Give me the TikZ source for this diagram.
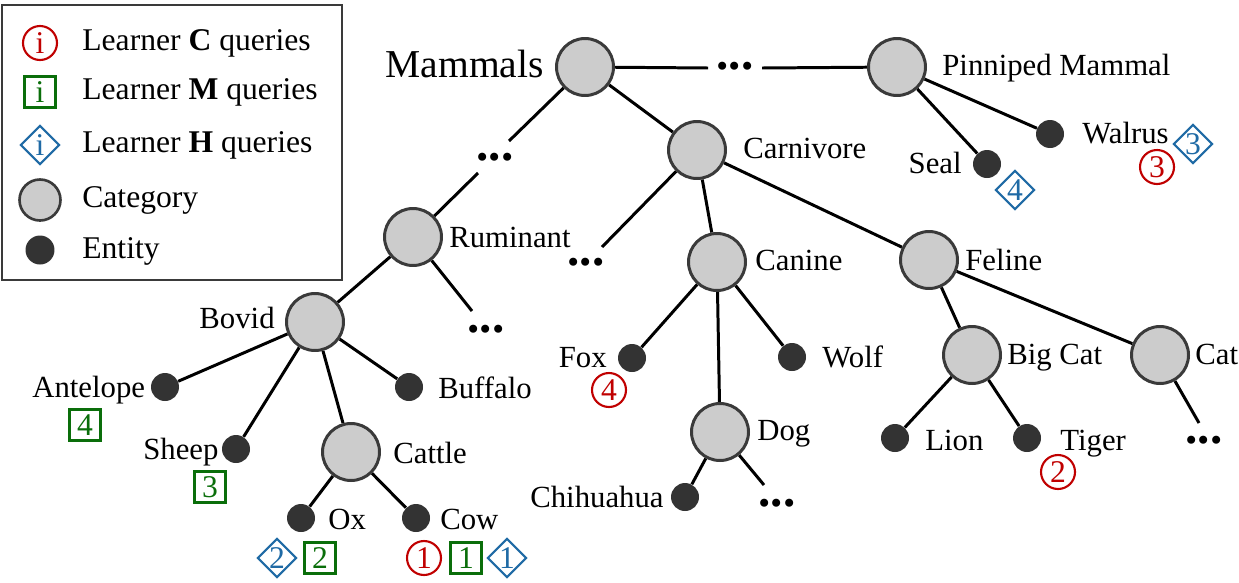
\documentclass[tikz,border=0pt]{standalone}
\usepackage{fontspec}
\setmainfont{Liberation Serif}
\newfontfamily\trfont{Liberation Serif}
\usetikzlibrary{shapes.geometric,backgrounds}
\definecolor{cred}{HTML}{C00000}
\definecolor{cgreen}{HTML}{0A6E0A}
\definecolor{cblue}{HTML}{1F6AA5}
\definecolor{catfill}{HTML}{CCCCCC}
\definecolor{catborder}{HTML}{3A3A3A}
\definecolor{entfill}{HTML}{333333}
\begin{document}
\begin{tikzpicture}[x=0.02cm,y=-0.02cm,
 catnode/.style={circle,draw=catborder,fill=catfill,line width=1.7pt,minimum size=1.14cm,inner sep=0},
 entnode/.style={circle,fill=entfill,minimum size=0.56cm,inner sep=0},
 lbl/.style={inner sep=0,font=\trfont\fontsize{17.5}{20}\selectfont},
 lblw/.style={lbl,anchor=base west},
 lble/.style={lbl,anchor=base east},
 legtxt/.style={inner sep=0,anchor=base west,font=\trfont\fontsize{18}{20}\selectfont},
 dotsnode/.style={inner sep=0,font=\trfont\fontsize{28}{28}\selectfont\bfseries},
 conn/.style={line width=1.7pt,black},
 mk/.style={inner sep=0,line width=1.2pt,font=\trfont\fontsize{18}{18}\selectfont},
 cmark/.style={mk,circle,draw=cred,text=cred,minimum size=0.68cm},
 smark/.style={mk,rectangle,draw=cgreen,text=cgreen,minimum size=0.62cm},
 dmark/.style={mk,diamond,aspect=1,draw=cblue,text=cblue,minimum size=0.78cm},
]
\useasboundingbox (0,0) rectangle (1239,582);

% legend
\draw[line width=1.1pt,catborder,fill=white] (2,5) rectangle (342,280);
\node[cmark] (lgC) at (40,43) {i};
\node[smark] (lgM) at (40,92) {i};
\node[dmark] (lgH) at (40,145) {i};
\node[catnode,minimum size=0.82cm,line width=1.5pt] (lgCat) at (40,200) {};
\node[entnode,minimum size=0.58cm] (lgEnt) at (40,250) {};
\node[legtxt] (tC) at (82,50) {Learner \textbf{C} queries};
\node[legtxt] (tM) at (82,99) {Learner \textbf{M} queries};
\node[legtxt] (tH) at (82,152) {Learner \textbf{H} queries};
\node[legtxt] (tCat) at (82,207) {Category};
\node[legtxt] (tEnt) at (82,258) {Entity};

% categories
\node[catnode] (mam) at (585,67) {};
\node[catnode] (pin) at (897,67) {};
\node[catnode] (carn) at (697,150) {};
\node[catnode] (rum) at (413,237) {};
\node[catnode] (can) at (717,262) {};
\node[catnode] (fel) at (929,260) {};
\node[catnode] (bov) at (315,322) {};
\node[catnode] (cat) at (351,452) {};
\node[catnode] (dog) at (720,432) {};
\node[catnode] (big) at (972,355) {};
\node[catnode] (catt) at (1160,355) {};

% entities
\node[entnode] (ant) at (165,387) {};
\node[entnode] (buf) at (409,387) {};
\node[entnode] (shp) at (236,449) {};
\node[entnode] (ox) at (301,518) {};
\node[entnode] (cow) at (416,518) {};
\node[entnode] (fox) at (632,358) {};
\node[entnode] (wolf) at (792,357) {};
\node[entnode] (chi) at (685,497) {};
\node[entnode] (lion) at (895,438) {};
\node[entnode] (tig) at (1027,438) {};
\node[entnode] (wal) at (1050,134) {};
\node[entnode] (seal) at (987,164) {};

% ellipses
\node[dotsnode] (d1) at (735,66) {...};
\node[dotsnode] (d2) at (495,157) {...};
\node[dotsnode] (d3) at (486,329) {...};
\node[dotsnode] (d4) at (586,262) {...};
\node[dotsnode] (d5) at (777,503) {...};
\node[dotsnode] (d6) at (1204,440) {...};

% free line ends
\coordinate (m1) at (708,68);
\coordinate (m2) at (762,68);
\coordinate (r1) at (509,141);
\coordinate (r2) at (478,173);
\coordinate (ru1) at (472,311);
\coordinate (c1) at (602,247);
\coordinate (dg1) at (764,485);
\coordinate (ca1) at (1199,423);

\begin{scope}[on background layer]
\draw[conn] (mam) -- (m1);
\draw[conn] (m2) -- (pin);
\draw[conn] (mam) -- (r1);
\draw[conn] (r2) -- (rum);
\draw[conn] (mam) -- (carn);
\draw[conn] (pin) -- (seal);
\draw[conn] (pin) -- (wal);
\draw[conn] (carn) -- (c1);
\draw[conn] (carn) -- (can);
\draw[conn] (carn) -- (fel);
\draw[conn] (rum) -- (bov);
\draw[conn] (rum) -- (ru1);
\draw[conn] (bov) -- (ant);
\draw[conn] (bov) -- (buf);
\draw[conn] (bov) -- (shp);
\draw[conn] (bov) -- (cat);
\draw[conn] (cat) -- (ox);
\draw[conn] (cat) -- (cow);
\draw[conn] (can) -- (fox);
\draw[conn] (can) -- (wolf);
\draw[conn] (can) -- (dog);
\draw[conn] (dog) -- (chi);
\draw[conn] (dog) -- (dg1);
\draw[conn] (fel) -- (big);
\draw[conn] (fel) -- (catt);
\draw[conn] (big) -- (lion);
\draw[conn] (big) -- (tig);
\draw[conn] (catt) -- (ca1);
\end{scope}

% labels
\node[lble,font=\trfont\fontsize{22.5}{24}\selectfont] (lmam) at (544,77) {Mammals};
\node[lblw] (lpin) at (942,75) {Pinniped Mammal};
\node[lblw] (lcarn) at (743,158) {Carnivore};
\node[lblw] (lrum) at (449,247) {Ruminant};
\node[lblw] (lcan) at (755,270) {Canine};
\node[lblw] (lfel) at (965,270) {Feline};
\node[lble] (lbov) at (275,328) {Bovid};
\node[lblw] (lant) at (32,397) {Antelope};
\node[lblw] (lbuf) at (438,398) {Buffalo};
\node[lblw] (lshp) at (143,459) {Sheep};
\node[lblw] (lcat) at (393,463) {Cattle};
\node[lblw] (lox) at (328,529) {Ox};
\node[lblw] (lcow) at (440,529) {Cow};
\node[lble] (lfox) at (607,367) {Fox};
\node[lblw] (lwolf) at (822,367) {Wolf};
\node[lblw] (ldog) at (757,440) {Dog};
\node[lblw] (lchi) at (530,507) {Chihuahua};
\node[lblw] (lbig) at (1007,364) {Big Cat};
\node[lblw] (lcatt) at (1195,364) {Cat};
\node[lblw] (llion) at (925,450) {Lion};
\node[lblw] (ltig) at (1060,450) {Tiger};
\node[lblw] (lwal) at (1082,143) {Walrus};
\node[lble] (lseal) at (962,173) {Seal};

% query markers
\node[smark] (qant) at (85,425) {4};
\node[smark] (qshp) at (210,487) {3};
\node[dmark] (qoxH) at (277,558) {2};
\node[smark] (qoxM) at (320,558) {2};
\node[cmark] (qcowC) at (424,558) {1};
\node[smark] (qcowM) at (466,558) {1};
\node[dmark] (qcowH) at (507,558) {1};
\node[cmark] (qfox) at (609,390) {4};
\node[cmark] (qtig) at (1058,472) {2};
\node[dmark] (qseal) at (1015,190) {4};
\node[dmark] (qwalH) at (1193,144) {3};
\node[cmark] (qwalC) at (1157,167) {3};
\end{tikzpicture}
\end{document}
